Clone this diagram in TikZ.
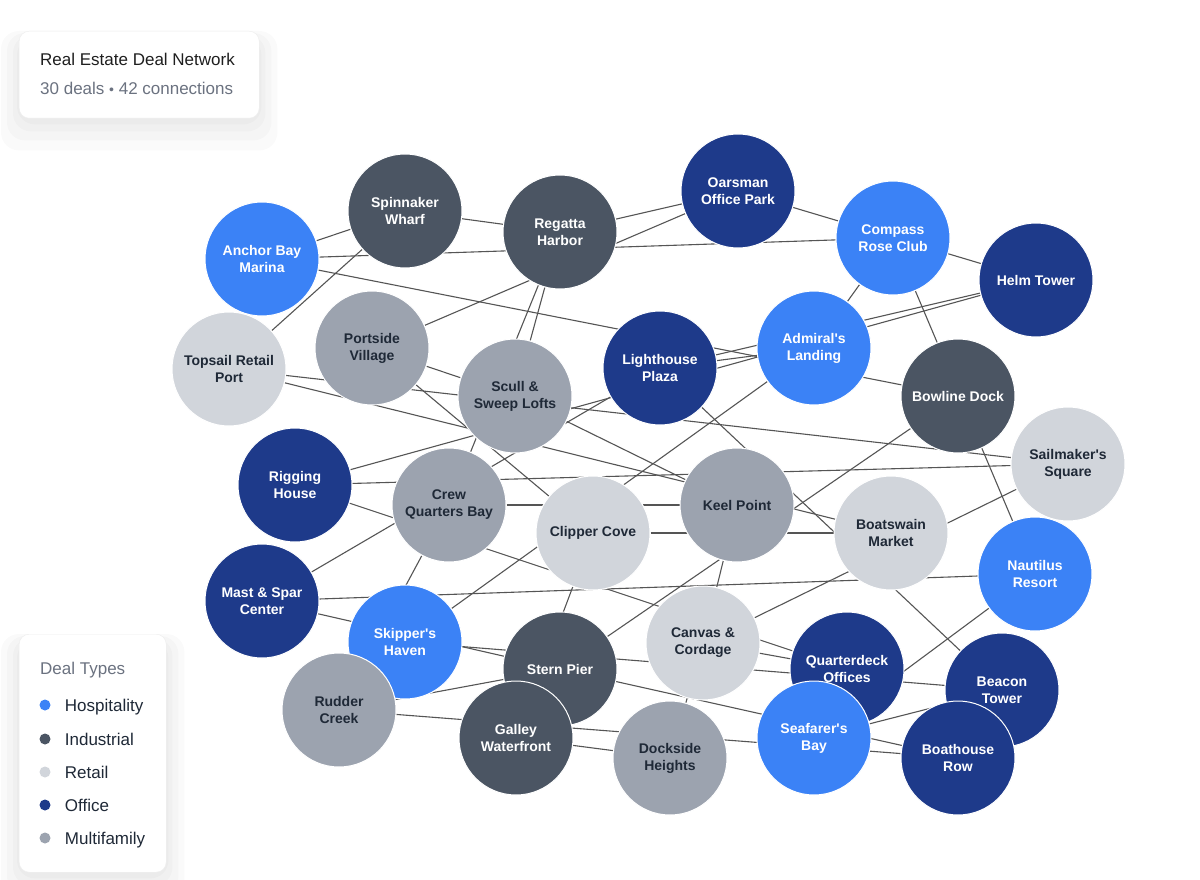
\documentclass[tikz,border=0pt]{standalone}
\usepackage{fontspec}
\newfontfamily\uifont{Liberation Sans}
\usepackage{tikz}
\usetikzlibrary{positioning,backgrounds}
\definecolor{cHosp}{HTML}{3B82F6}
\definecolor{cInd} {HTML}{4B5563}
\definecolor{cRet} {HTML}{D1D5DB}
\definecolor{cOff} {HTML}{1E3A8A}
\definecolor{cMul} {HTML}{9CA3AF}
\definecolor{cInk} {HTML}{1F2937}
\definecolor{cMute}{HTML}{6B7280}
\definecolor{cLink}{HTML}{555555}
\tikzset{
  deal/.style={circle,minimum size=114pt,inner sep=0pt,align=center,
               draw=white,line width=1pt,
               font=\uifont\bfseries\fontsize{14}{17}\selectfont},
  dhos/.style={deal,fill=cHosp,text=white},
  dind/.style={deal,fill=cInd,text=white},
  dret/.style={deal,fill=cRet,text=cInk},
  doff/.style={deal,fill=cOff,text=white},
  dmul/.style={deal,fill=cMul,text=cInk},
  link/.style={cLink,line width=1.1pt},
  card/.style={rounded corners=10pt,fill=white,draw=black!7,anchor=north west},
  haze/.style={rounded corners=18pt,black,opacity=.02},
  ctxt/.style={anchor=base west,inner sep=0pt,font=\uifont\fontsize{17}{20}\selectfont},
  ldot/.style={circle,inner sep=0pt,minimum size=11pt},
  ltxt/.style={inner sep=0pt,text height=12pt,text depth=0pt,text=cInk,
               font=\uifont\fontsize{17}{20}\selectfont},
}
\begin{document}
\begin{tikzpicture}[x=1pt,y=-1pt,font=\uifont]
        \useasboundingbox (0,0) rectangle (1200,880);
        % deals
        \node[dhos] (anc) at (262,259) {Anchor Bay\\Marina};
        \node[dind] (spn) at (405,211) {Spinnaker\\Wharf};
        \node[dind] (reg) at (560,232) {Regatta\\Harbor};
        \node[doff] (oar) at (738,191) {Oarsman\\Office Park};
        \node[dhos] (cmp) at (893,238) {Compass\\Rose Club};
        \node[doff] (hlm) at (1036,280) {Helm Tower};
        \node[dmul] (prt) at (372,348) {Portside\\Village};
        \node[dret] (top) at (229,369) {Topsail Retail\\Port};
        \node[dmul] (scl) at (515,396) {Scull \&\\Sweep Lofts};
        \node[doff] (lgt) at (660,368) {Lighthouse\\Plaza};
        \node[dhos] (adm) at (814,348) {Admiral's\\Landing};
        \node[dind] (bwl) at (958,396) {Bowline Dock};
        \node[dret] (sail) at (1068,464) {Sailmaker's\\Square};
        \node[doff] (rig) at (295,485) {Rigging\\House};
        \node[dmul] (crw) at (449,505) {Crew\\Quarters Bay};
        \node[dmul] (keel) at (737,505) {Keel Point};
        \node[dret] (clp) at (593,533) {Clipper Cove};
        \node[dret] (bts) at (891,533) {Boatswain\\Market};
        \node[dhos] (nau) at (1035,574) {Nautilus\\Resort};
        \node[doff] (mast) at (262,601) {Mast \& Spar\\Center};
        \node[dhos] (skp) at (405,642) {Skipper's\\Haven};
        \node[dret] (cnv) at (703,643) {Canvas \&\\Cordage};
        \node[dind] (stn) at (560,669) {Stern Pier};
        \node[doff] (qtr) at (847,669) {Quarterdeck\\Offices};
        \node[doff] (bcn) at (1002,690) {Beacon\\Tower};
        \node[dmul] (rud) at (339,710) {Rudder\\Creek};
        \node[dind] (gal) at (516,738) {Galley\\Waterfront};
        \node[dhos] (sea) at (814,738) {Seafarer's\\Bay};
        \node[dmul] (dck) at (670,758) {Dockside\\Heights};
        \node[doff] (bth) at (958,758) {Boathouse\\Row};
        % cards
        \node[card,minimum width=240pt,minimum height=87pt] (ttl) at (19,31) {};
        \node[ctxt,text=black!88] (tname) at (40,66) {Real Estate Deal Network};
        \node[ctxt,text=cMute] (tsub) at (40,95)
          {30 deals {\fontsize{14}{14}\selectfont•} 42 connections};
        \node[card,minimum width=147pt,minimum height=238pt] (lgd) at (19,634) {};
        \node[ctxt,text=cMute] (lhead) at (40,674) {Deal Types};
        \node[ldot,fill=cHosp] (lh) at (45,705) {};
        \node[ltxt,right=14pt of lh] {Hospitality};
        \node[ldot,fill=cInd] (li) at (45,739) {};
        \node[ltxt,right=14pt of li] {Industrial};
        \node[ldot,fill=cRet] (lr) at (45,772) {};
        \node[ltxt,right=14pt of lr] {Retail};
        \node[ldot,fill=cOff] (lo) at (45,805) {};
        \node[ltxt,right=14pt of lo] {Office};
        \node[ldot,fill=cMul] (lm) at (45,838) {};
        \node[ltxt,right=14pt of lm] {Multifamily};
        % connections and shadows
        \begin{scope}[on background layer]
          \fill[white] (0,0) rectangle (1200,880);
          \fill[haze] ([shift={(-18,0)}]ttl.north west) rectangle ([shift={(18,32)}]ttl.south east);
          \fill[haze] ([shift={(-12,2)}]ttl.north west) rectangle ([shift={(12,22)}]ttl.south east);
          \fill[haze] ([shift={(-6,4)}]ttl.north west) rectangle ([shift={(6,13)}]ttl.south east);
          \fill[haze] ([shift={(-2,6)}]ttl.north west) rectangle ([shift={(2,6)}]ttl.south east);
          \fill[haze] ([shift={(-18,0)}]lgd.north west) rectangle ([shift={(18,32)}]lgd.south east);
          \fill[haze] ([shift={(-12,2)}]lgd.north west) rectangle ([shift={(12,22)}]lgd.south east);
          \fill[haze] ([shift={(-6,4)}]lgd.north west) rectangle ([shift={(6,13)}]lgd.south east);
          \fill[haze] ([shift={(-2,6)}]lgd.north west) rectangle ([shift={(2,6)}]lgd.south east);
          \draw[link] (anc)--(spn);  \draw[link] (anc)--(cmp);  \draw[link] (anc)--(bwl);
          \draw[link] (top)--(spn);  \draw[link] (top)--(sail); \draw[link] (top)--(bts);
          \draw[link] (spn)--(reg);  \draw[link] (reg)--(oar);  \draw[link] (prt)--(oar);
          \draw[link] (reg)--(scl);  \draw[link] (reg)--(crw);  \draw[link] (oar)--(hlm);
          \draw[link] (cmp)--(adm);  \draw[link] (cmp)--(nau);  \draw[link] (prt)--(scl);
          \draw[link] (prt)--(clp);  \draw[link] (scl)--(keel); \draw[link] (lgt)--(bcn);
          \draw[link] (lgt)--(hlm);  \draw[link] (lgt)--(adm);  \draw[link] (rig)--(hlm);
          \draw[link] (rig)--(sail); \draw[link] (rig)--(qtr);  \draw[link] (mast)--(lgt);
          \draw[link] (mast)--(nau); \draw[link] (mast)--(stn); \draw[link] (skp)--(adm);
          \draw[link] (skp)--(bcn);  \draw[link] (crw)--(keel); \draw[link] (crw)--(rud);
          \draw[link] (clp)--(bts);  \draw[link] (keel)--(cnv); \draw[link] (bwl)--(stn);
          \draw[link] (cnv)--(sail); \draw[link] (cnv)--(qtr);  \draw[link] (cnv)--(dck);
          \draw[link] (nau)--(sea);  \draw[link] (sea)--(bcn);  \draw[link] (stn)--(bth);
          \draw[link] (rud)--(bth);  \draw[link] (gal)--(dck);  \draw[link] (rud)--(stn);
          \draw[link] (gal)--(clp);
        \end{scope}
      \end{tikzpicture}
\end{document}
